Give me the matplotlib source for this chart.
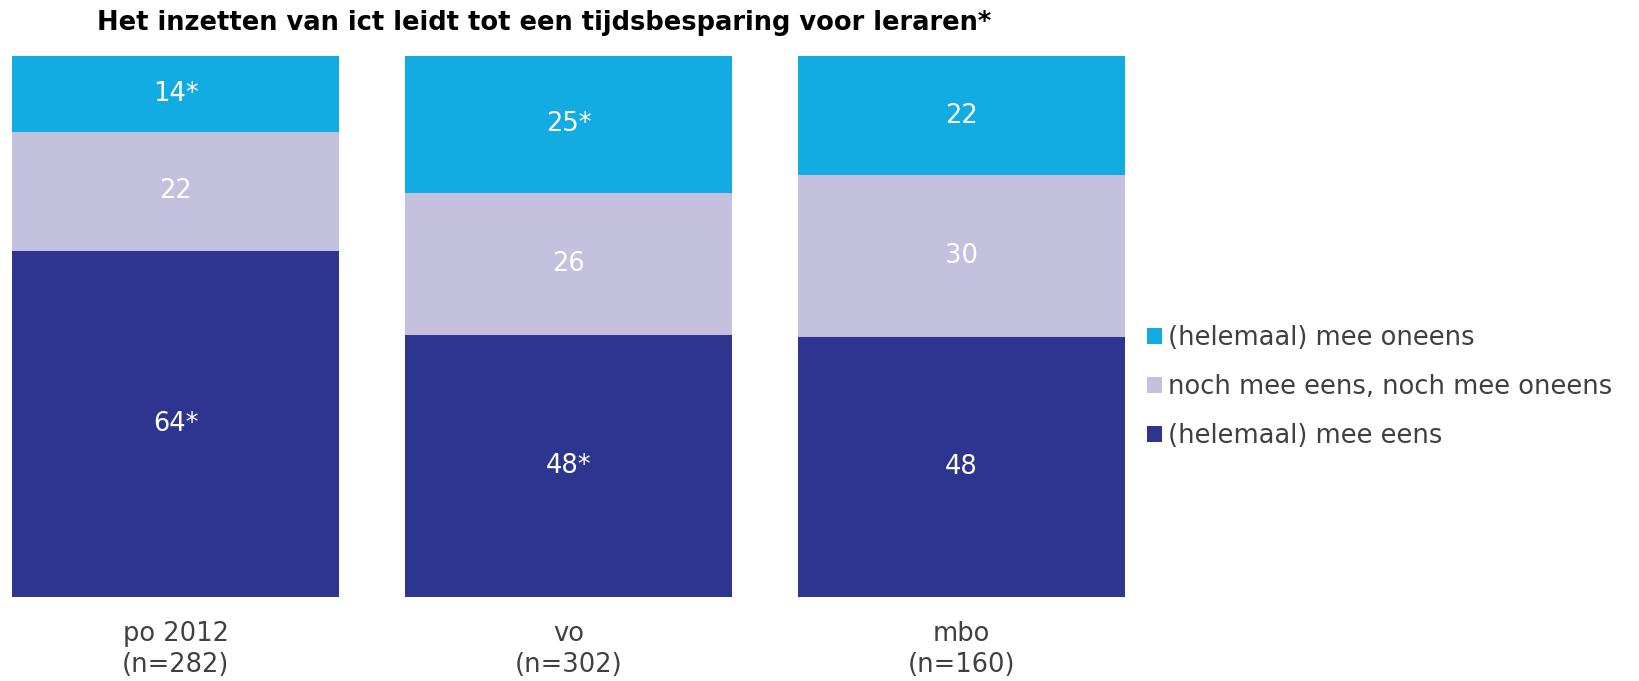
import matplotlib
matplotlib.use("Agg")
import matplotlib.pyplot as plt
import numpy as np
from matplotlib.patches import Patch

plt.rcParams['font.family'] = ['DejaVu Sans']

categories = ["po 2012\n(n=282)", "vo\n(n=302)", "mbo\n(n=160)"]
series_names = ["(helemaal) mee eens", "noch mee eens, noch mee oneens", "(helemaal) mee oneens"]
eens = [64, 48, 48]
neutraal = [22, 26, 30]
oneens = [14, 25, 22]
label_eens = ["64*", "48*", "48"]
label_neutraal = ["22", "26", "30"]
label_oneens = ["14*", "25*", "22"]
colors = ["#2E3590", "#C4C1DF", "#12ACE3"]
title = "Het inzetten van ict leidt tot een tijdsbesparing voor leraren*"

W, H = 1639, 681
fig = plt.figure(figsize=(W / 100, H / 100), dpi=100)
ax = fig.add_axes([12 / W, 1 - 597 / H, (1125 - 12) / W, (597 - 56) / H])

data = np.array([eens, neutraal, oneens], dtype=float)
share = data / data.sum(axis=0) * 100  # 100% stacked columns
labels = [label_eens, label_neutraal, label_oneens]

x = np.arange(len(categories))
width = 0.833
bottom = np.zeros(len(categories))
for vals, col, labs in zip(share, colors, labels):
    ax.bar(x, vals, width, bottom=bottom, color=col, edgecolor="none")
    for xi, b, v, t in zip(x, bottom, vals, labs):
        ax.text(xi, b + v / 2, t, ha="center", va="center", color="white", fontsize=18.5)
    bottom += vals

ax.set_xlim(-width / 2, len(categories) - 1 + width / 2)
ax.set_ylim(0, 100)
ax.set_xticks(x)
ax.set_xticklabels(categories, fontsize=18.5, color="#404040", linespacing=1.28)
ax.tick_params(axis="x", length=0, pad=17)
ax.set_yticks([])
for s in ax.spines.values():
    s.set_visible(False)

fig.text(97 / W, 1 - 23 / H, title, fontsize=18.5, fontweight="bold", color="black",
         ha="left", va="center")

handles = [Patch(facecolor=c, edgecolor="none") for c in colors[::-1]]
fig.legend(handles, series_names[::-1], loc="center left",
           bbox_to_anchor=(1147 / W, 1 - 387 / H), frameon=False,
           fontsize=18.5, labelcolor="#404040", handlelength=0.58, handleheight=0.58,
           handletextpad=0.25, labelspacing=0.9, borderaxespad=0, borderpad=0)

fig.savefig("out.png", dpi=100)
